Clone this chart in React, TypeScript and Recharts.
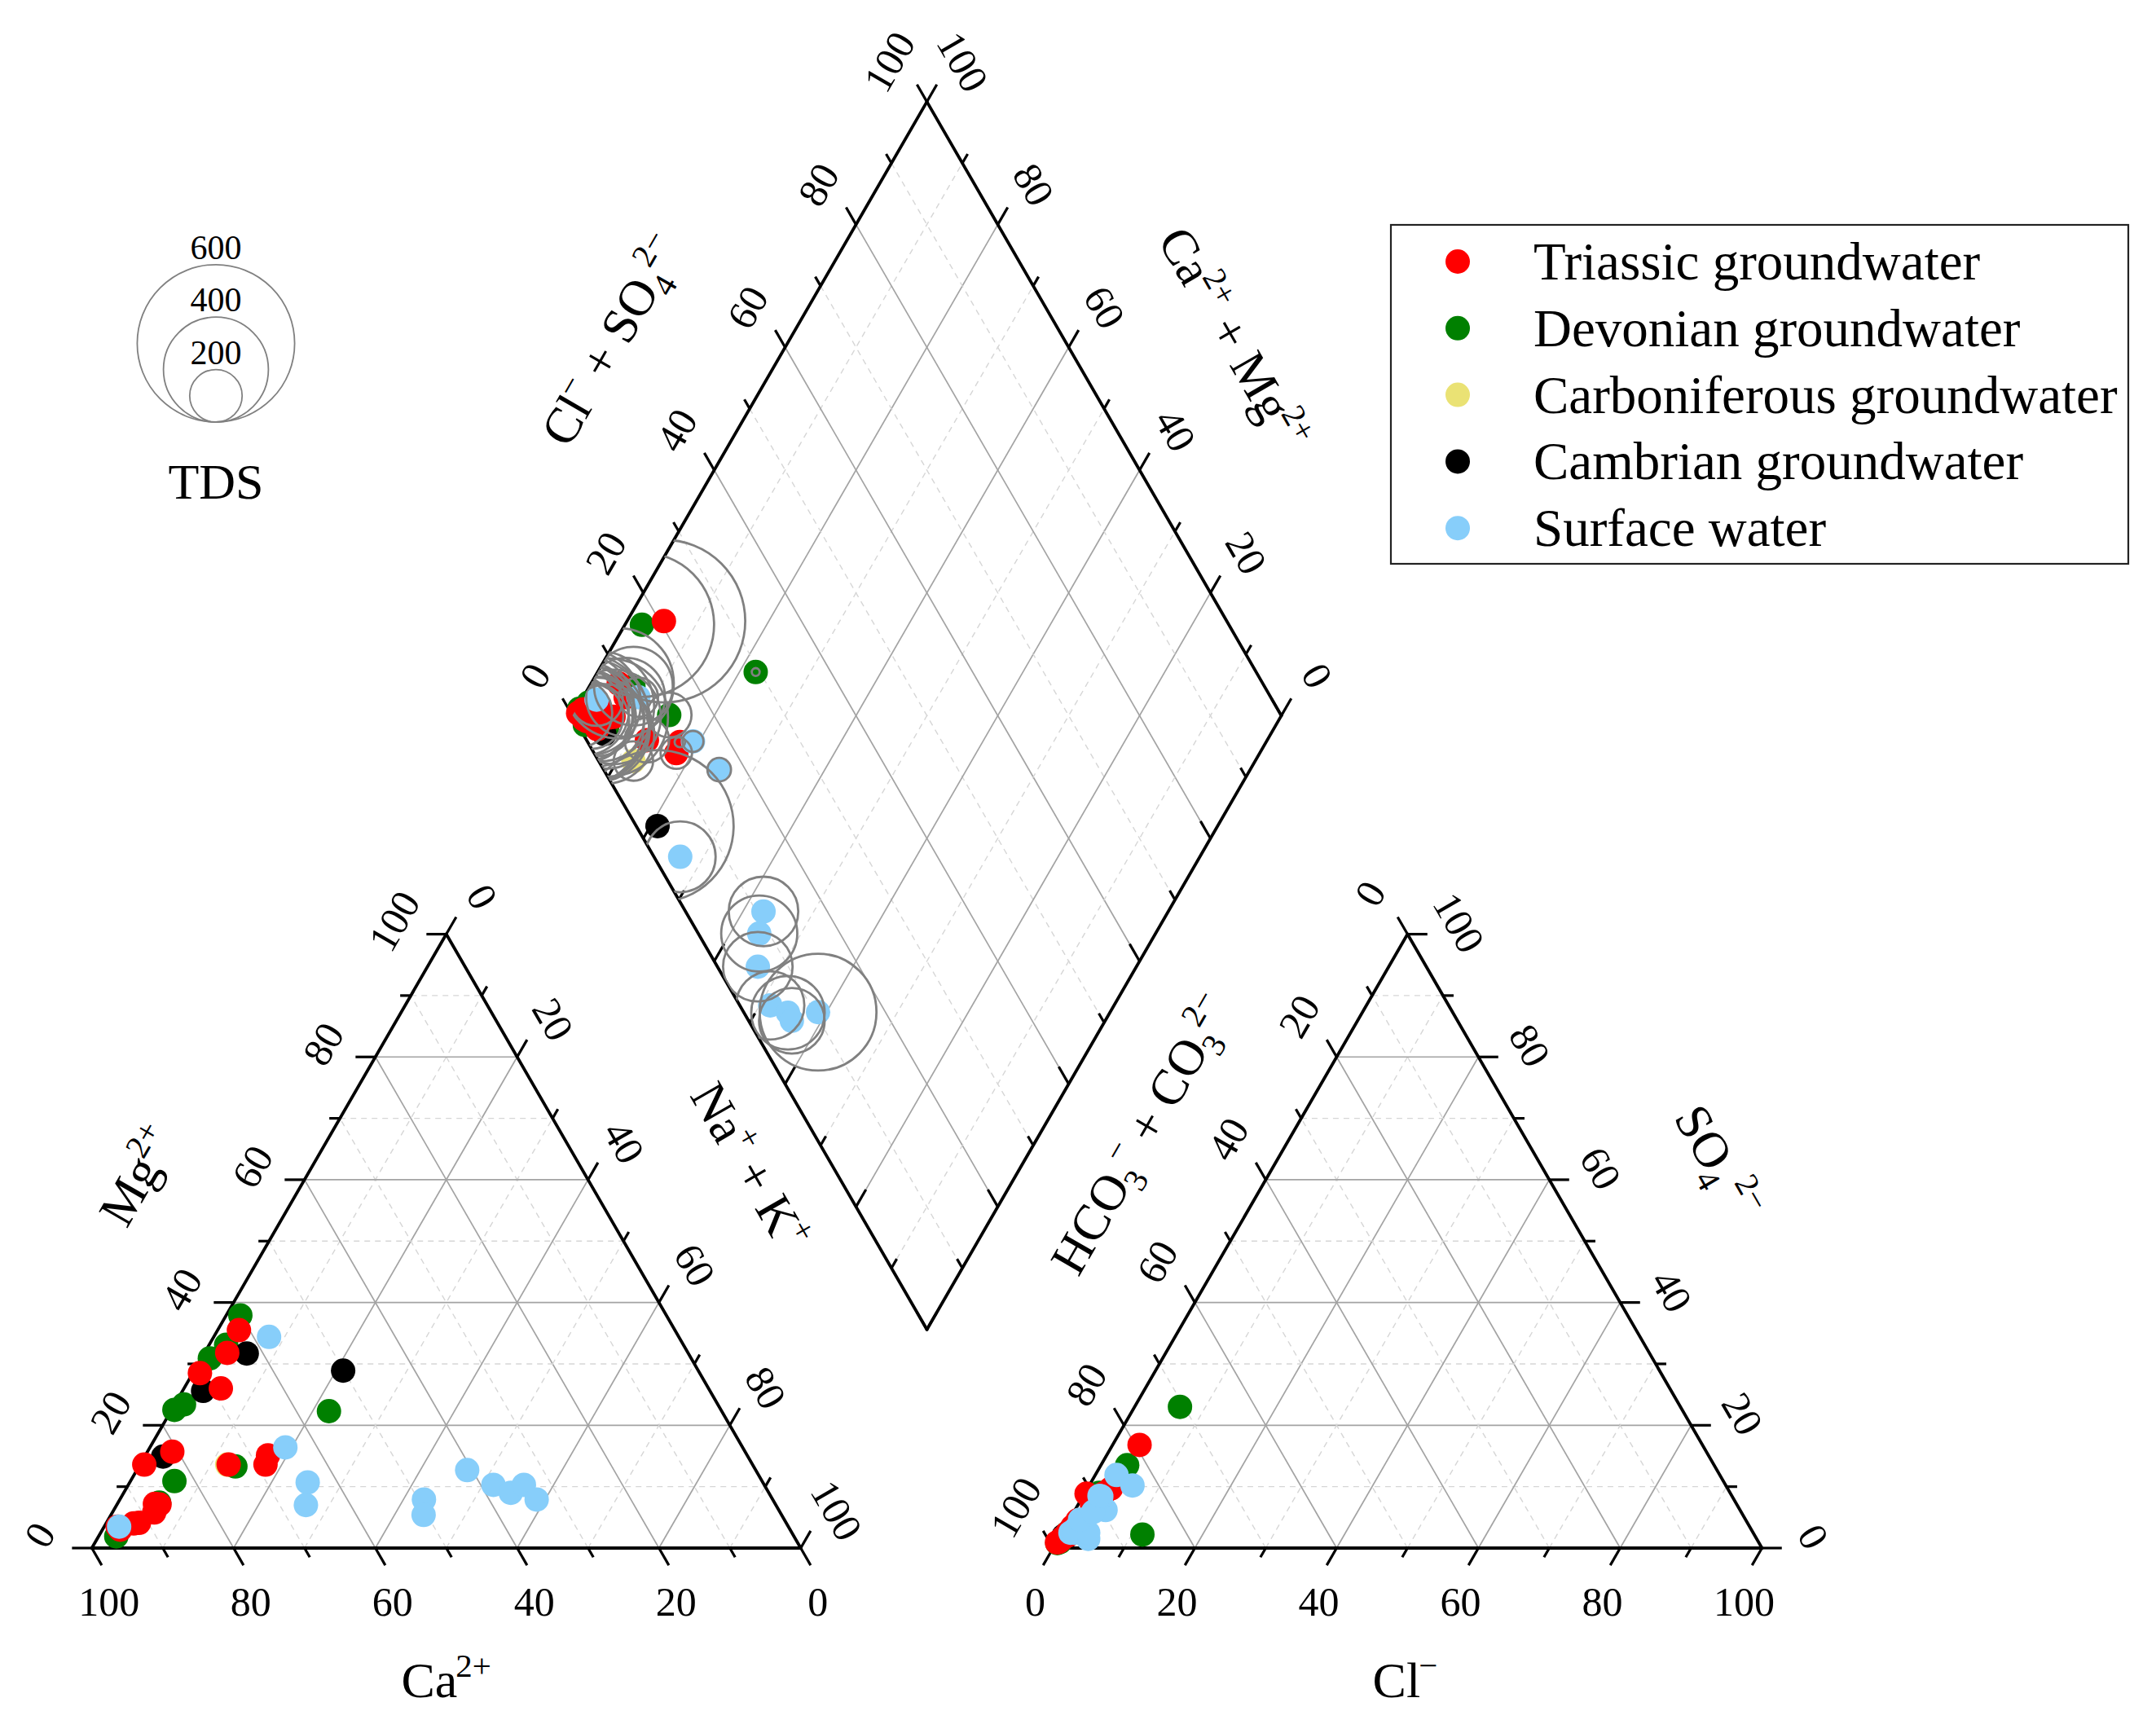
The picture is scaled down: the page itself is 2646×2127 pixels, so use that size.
import React from "react";
import { ScatterChart, Scatter, XAxis, YAxis, ReferenceLine } from "recharts";

const W = 2646;
const H = 2127;
const U = 8.7; // px per ternary percent
const OX = 112.7; // px of the Ca2+ corner
const OY = 1900; // px of the base line
const GAP = 35.6; // gap between the two triangles, in percent units
const SQ = Math.sqrt(3) / 2;
const AX = 100 + GAP;
const RK = 0.161; // px of ring radius per mg/L of TDS

const FONT = '"Liberation Serif", "Times New Roman", serif';
const NB = "\u00A0";

// rows: Mg2+, Na+ + K+, SO4 2-, Cl-, TDS  (Ca2+ and HCO3- are the rest up to 100 %)
const triassic = [
	[35.5, 3.0, 3.5, 1.0, 420],
	[31.8, 3.2, 2.0, 1.0, 380],
	[28.5, 1.0, 1.5, 0.5, 350],
	[26.0, 5.2, 16.8, 3.8, 620],
	[15.7, 3.5, 2.5, 0.8, 300],
	[13.6, 0.6, 0.9, 0.1, 260],
	[13.6, 12.5, 6.0, 2.5, 170],
	[15.1, 17.3, 9.7, 3.3, 40],
	[13.6, 17.7, 8.9, 2.7, 120],
	[7.2, 5.3, 3.5, 1.5, 450],
	[4.1, 4.6, 1.8, 0.6, 400],
	[3.0, 2.5, 1.2, 0.4, 480],
	[4.0, 3.9, 8.85, 0.3, 420],
	[3.5, 1.9, 1.0, 0.3, 500],
	[5.8, 5.9, 4.5, 1.2, 360],
	[7.1, 6.0, 7.0, 2.0, 300],
];

const devonian = [
	[37.9, 2.0, 1.5, 0.5, 350],
	[33.1, 2.4, 13.5, 3.7, 550],
	[30.9, 1.2, 2.5, 0.8, 400],
	[23.4, 1.3, 1.5, 0.5, 380],
	[22.5, 0.4, 1.0, 0.5, 420],
	[10.9, 6.2, 9.0, 2.0, 300],
	[13.3, 13.6, 2.2, 11.5, 170],
	[7.4, 5.8, 3.0, 1.0, 320],
	[1.9, 2.5, 0.8, 0.2, 450],
	[22.3, 22.3, 23.0, 6.4, 30],
];

const carboniferous = [[13.6, 12.3, 3.0, 1.9, 150]];

const cambrian = [
	[31.7, 6.0, 2.0, 1.0, 380],
	[25.6, 2.9, 1.5, 0.5, 300],
	[14.9, 2.6, 2.0, 0.5, 250],
	[28.9, 21.0, 2.0, 1.0, 580],
];

const surface = [
	[16.4, 19.1, 11.9, 3.0, 80],
	[10.7, 25.1, 10.2, 6.1, 90],
	[7.0, 26.7, 2.5, 1.2, 270],
	[3.5, 2.1, 3.1, 1.6, 200],
	[12.7, 46.6, 1.5, 4.2, 265],
	[10.3, 51.5, 2.5, 1.8, 260],
	[9.0, 54.6, 2.5, 3.7, 280],
	[10.3, 55.8, 4.6, 1.5, 250],
	[7.9, 58.8, 6.2, 4.3, 445],
	[7.9, 42.9, 8.4, 2.6, 265],
	[5.4, 44.1, 5.9, 2.7, 290],
	[34.4, 7.8, 8.5, 2.3, 150],
];

const tickValues = [0, 10, 20, 30, 40, 50, 60, 70, 80, 90, 100];
const labelValues = [0, 20, 40, 60, 80, 100];
const tdsLegend = [600, 400, 200];

const groups = [
	{ name: "Triassic groundwater", color: "#ff0000", rows: triassic },
	{ name: "Devonian groundwater", color: "#008000", rows: devonian },
	{ name: "Carboniferous groundwater", color: "#eae274", rows: carboniferous },
	{ name: "Cambrian groundwater", color: "#000000", rows: cambrian },
	{ name: "Surface water", color: "#87cefa", rows: surface },
];
const drawOrder = [1, 2, 3, 0, 4];

// ternary -> plane
const cat = (mg: number, na: number) => ({ x: na + mg / 2, y: mg * SQ });
const an = (so4: number, cl: number) => ({ x: AX + cl + so4 / 2, y: so4 * SQ });
const dia = (na: number, cs: number) => ({ x: (na + cs + AX) / 2, y: SQ * (AX + cs - na) });

type P = { x: number; y: number };

const grid: { a: P; b: P; major: boolean }[] = [];
tickValues.forEach((v) => {
	if (v === 0 || v === 100) return;
	const major = v % 20 === 0;
	grid.push({ a: cat(v, 0), b: cat(v, 100 - v), major });
	grid.push({ a: cat(0, v), b: cat(100 - v, v), major });
	grid.push({ a: cat(0, 100 - v), b: cat(100 - v, 0), major });
	grid.push({ a: an(v, 0), b: an(v, 100 - v), major });
	grid.push({ a: an(0, v), b: an(100 - v, v), major });
	grid.push({ a: an(0, 100 - v), b: an(100 - v, 0), major });
	grid.push({ a: dia(v, 0), b: dia(v, 100), major });
	grid.push({ a: dia(0, v), b: dia(100, v), major });
});

const DIAMOND = [dia(0, 0), dia(0, 100), dia(100, 100), dia(100, 0)];
const edges: { a: P; b: P }[] = [
	{ a: cat(0, 0), b: cat(0, 100) },
	{ a: cat(0, 100), b: cat(100, 0) },
	{ a: cat(100, 0), b: cat(0, 0) },
	{ a: an(0, 0), b: an(0, 100) },
	{ a: an(0, 100), b: an(100, 0) },
	{ a: an(100, 0), b: an(0, 0) },
	...DIAMOND.map((p, i) => ({ a: p, b: DIAMOND[(i + 1) % 4] })),
];

const tickDefs: { at: (v: number) => P; d: [number, number] }[] = [
	{ at: (v) => cat(0, v), d: [0.5, -SQ] },
	{ at: (v) => cat(v, 0), d: [-1, 0] },
	{ at: (v) => cat(100 - v, v), d: [0.5, SQ] },
	{ at: (v) => an(0, v), d: [-0.5, -SQ] },
	{ at: (v) => an(v, 0), d: [-0.5, SQ] },
	{ at: (v) => an(v, 100 - v), d: [1, 0] },
	{ at: (v) => dia(0, v), d: [-0.5, SQ] },
	{ at: (v) => dia(v, 100), d: [0.5, SQ] },
	{ at: (v) => dia(v, 0), d: [0.5, SQ] },
	{ at: (v) => dia(100, v), d: [-0.5, SQ] },
];
const ticks: { a: P; b: P }[] = [];
tickDefs.forEach((t) =>
	tickValues.forEach((v) => {
		const a = t.at(v);
		const len = v % 20 === 0 ? 2.8 : 1.5;
		ticks.push({ a, b: { x: a.x + t.d[0] * len, y: a.y + t.d[1] * len } });
	})
);

const labelDefs: { at: (v: number) => P; dx: number; dy: number; rot: number }[] = [
	{ at: (v) => cat(0, 100 - v), dx: 21, dy: 66, rot: 0 },
	{ at: (v) => cat(v, 0), dx: -64, dy: -16, rot: -60 },
	{ at: (v) => cat(100 - v, v), dx: 44, dy: -46, rot: 60 },
	{ at: (v) => an(0, v), dx: -22, dy: 66, rot: 0 },
	{ at: (v) => an(100 - v, 0), dx: -46, dy: -50, rot: -60 },
	{ at: (v) => an(v, 100 - v), dx: 63, dy: -14, rot: 60 },
	{ at: (v) => dia(0, v), dx: -46, dy: -49, rot: -60 },
	{ at: (v) => dia(100 - v, 100), dx: 44, dy: -49, rot: 60 },
];
const tickLabels = labelDefs.flatMap((l) =>
	labelValues.map((v) => ({ ...l.at(v), text: String(v), dx: l.dx, dy: l.dy, rot: l.rot }))
);

type Part = [string, "n" | "sup" | "sub"];
const titles: { at: P; dx: number; dy: number; rot: number; parts: Part[] }[] = [
	{ at: cat(0, 50), dx: 0, dy: 162, rot: 0, parts: [["Ca", "n"], ["2+", "sup"]] },
	{ at: cat(50, 0), dx: -161, dy: -80, rot: -60, parts: [["Mg", "n"], ["2+", "sup"]] },
	{
		at: cat(50, 50),
		dx: 155,
		dy: -92,
		rot: 60,
		parts: [["Na", "n"], ["+", "sup"], [`${NB}+${NB}K`, "n"], ["+", "sup"]],
	},
	{ at: an(0, 50), dx: -3, dy: 162, rot: 0, parts: [["Cl", "n"], ["−", "sup"]] },
	{
		at: an(50, 0),
		dx: -109,
		dy: -131,
		rot: -60,
		parts: [["HCO", "n"], ["3", "sub"], ["−", "sup"], [`${NB}+${NB}CO`, "n"], ["3", "sub"], ["2−", "sup"]],
	},
	{ at: an(50, 50), dx: 164, dy: -97, rot: 60, parts: [["SO", "n"], ["4", "sub"], [`${NB}2−`, "sup"]] },
	{
		at: dia(0, 50),
		dx: -169,
		dy: -84,
		rot: -60,
		parts: [["Cl", "n"], ["−", "sup"], [`${NB}+${NB}SO`, "n"], ["4", "sub"], ["2−", "sup"]],
	},
	{
		at: dia(50, 100),
		dx: 159,
		dy: -86,
		rot: 60,
		parts: [["Ca", "n"], ["2+", "sup"], [`${NB}+${NB}Mg`, "n"], ["2+", "sup"]],
	},
];
const titleData = titles.map((t, i) => ({ ...t.at, idx: i }));

const renderParts = (parts: Part[], big: number) => {
	let cur = 0;
	return parts.map(([t, k], i) => {
		const target = k === "sup" ? -0.4 * big : k === "sub" ? 0.24 * big : 0;
		const dy = target - cur;
		cur = target;
		return (
			<tspan key={i} dy={dy} dx={k === "n" ? 0 : -2} fontSize={k === "n" ? big : big * 0.66}>
				{t}
			</tspan>
		);
	});
};

const XMIN = -OX / U;
const XMAX = (W - OX) / U;
const YMIN = -(H - OY) / U;
const YMAX = OY / U;

const pointData = groups.map((g) =>
	g.rows.flatMap((r) => [cat(r[0], r[1]), an(r[2], r[3]), dia(r[1], r[2] + r[3])])
);
const ringData = drawOrder
	.flatMap((gi) => groups[gi].rows.map((r) => ({ ...dia(r[1], r[2] + r[3]), tds: r[4] })))
	.map((d, i) => ({ ...d, id: i }));

const RingShape = (p: any) => {
	const d = p.payload;
	const id = `ring-clip-${d.id}`;
	const pts = DIAMOND.map((v) => `${p.cx + (v.x - d.x) * U},${p.cy - (v.y - d.y) * U}`).join(" ");
	return (
		<g>
			<defs>
				<clipPath id={id}>
					<polygon points={pts} />
				</clipPath>
			</defs>
			<circle
				cx={p.cx}
				cy={p.cy}
				r={d.tds * RK}
				fill="none"
				stroke="#808080"
				strokeWidth={2.8}
				clipPath={`url(#${id})`}
			/>
		</g>
	);
};

const LabelShape = (p: any) => {
	const d = p.payload;
	const x = p.cx + d.dx;
	const y = p.cy + d.dy;
	return (
		<text
			x={x}
			y={y}
			transform={d.rot ? `rotate(${d.rot} ${x} ${y})` : undefined}
			textAnchor="middle"
			dominantBaseline="central"
			fontFamily={FONT}
			fontSize={50}
			fill="#000">
			{d.text}
		</text>
	);
};

const TitleShape = (p: any) => {
	const t = titles[p.payload.idx];
	const x = p.cx + t.dx;
	const y = p.cy + t.dy;
	return (
		<text
			x={x}
			y={y + 21}
			transform={t.rot ? `rotate(${t.rot} ${x} ${y})` : undefined}
			textAnchor="middle"
			fontFamily={FONT}
			fontSize={62}
			fill="#000">
			{renderParts(t.parts, 62)}
		</text>
	);
};

export default function App() {
	return (
		<div style={{ position: "absolute", left: 0, top: 0, width: W, height: H, background: "#fff" }}>
			<ScatterChart width={W} height={H} margin={{ top: 0, right: 0, bottom: 0, left: 0 }}>
				<XAxis type="number" dataKey="x" domain={[XMIN, XMAX]} allowDataOverflow hide />
				<YAxis type="number" dataKey="y" domain={[YMIN, YMAX]} allowDataOverflow hide />
				{grid.map((g, i) => (
					<ReferenceLine
						key={`g${i}`}
						segment={[g.a, g.b]}
						stroke={g.major ? "#a3a3a3" : "#d6d6d6"}
						strokeWidth={g.major ? 1.7 : 1.4}
						strokeDasharray={g.major ? undefined : "7 6"}
					/>
				))}
				{drawOrder.map((gi) => (
					<Scatter
						key={groups[gi].name}
						name={groups[gi].name}
						data={pointData[gi]}
						isAnimationActive={false}
						shape={(p: any) => <circle cx={p.cx} cy={p.cy} r={15} fill={groups[gi].color} />}
					/>
				))}
				<Scatter name="TDS" data={ringData} isAnimationActive={false} shape={RingShape} />
				{edges.map((e, i) => (
					<ReferenceLine key={`e${i}`} segment={[e.a, e.b]} stroke="#000" strokeWidth={3.8} strokeLinecap="round" />
				))}
				{ticks.map((t, i) => (
					<ReferenceLine key={`t${i}`} segment={[t.a, t.b]} stroke="#000" strokeWidth={3.2} />
				))}
				<Scatter name="labels" data={tickLabels} isAnimationActive={false} shape={LabelShape} />
				<Scatter name="titles" data={titleData} isAnimationActive={false} shape={TitleShape} />
			</ScatterChart>
			<svg width={W} height={H} style={{ position: "absolute", left: 0, top: 0, pointerEvents: "none" }}>
				{tdsLegend.map((v) => (
					<g key={v}>
						<circle cx={265} cy={518 - v * RK} r={v * RK} fill="none" stroke="#808080" strokeWidth={1.8} />
						<text
							x={265}
							y={518 - 2 * v * RK - 21}
							textAnchor="middle"
							dominantBaseline="central"
							fontFamily={FONT}
							fontSize={42}>
							{v}
						</text>
					</g>
				))}
				<text x={265} y={591} textAnchor="middle" dominantBaseline="central" fontFamily={FONT} fontSize={62}>
					TDS
				</text>
				<rect x={1707} y={276} width={905} height={416} fill="#fff" stroke="#222" strokeWidth={2.2} />
				{groups.map((g, i) => (
					<g key={g.name}>
						<circle cx={1789} cy={321 + i * 81.8} r={15} fill={g.color} />
						<text x={1882} y={321 + i * 81.8} dominantBaseline="central" fontFamily={FONT} fontSize={65}>
							{g.name}
						</text>
					</g>
				))}
			</svg>
		</div>
	);
}
